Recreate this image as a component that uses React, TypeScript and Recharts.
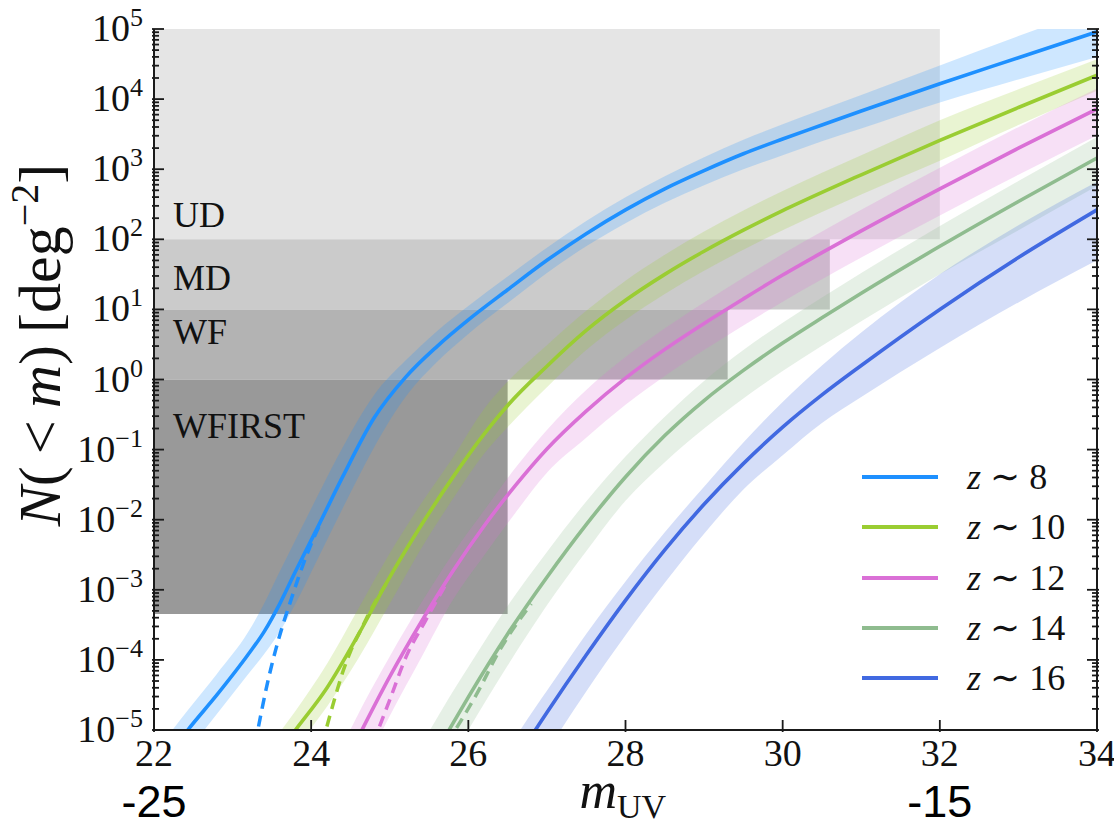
import { ComposedChart, Area, Line, XAxis, YAxis, ReferenceArea, Legend, Label } from "recharts";

const SERIF = "'Liberation Serif', 'DejaVu Serif', serif";
const SANS = "'Liberation Sans', Arial, sans-serif";
const AXIS = "#1a1a1a";

// m_UV grid and log10 N(<m) [deg^-2], per redshift
const z8M = [22.2, 22.43, 22.8, 23.2, 23.4, 23.6, 23.8, 24.1, 24.4, 24.8, 25.2, 25.6, 26.0, 26.5, 27.0, 27.5, 28.0, 28.5, 29.0, 29.5, 30.0, 30.5, 31.0, 32.0, 33.0, 34.0];
const z8Mid = [-5.34, -5.0, -4.5, -3.92, -3.6, -3.2, -2.74, -2.07, -1.39, -0.55, 0.03, 0.47, 0.85, 1.28, 1.7, 2.08, 2.42, 2.72, 2.98, 3.22, 3.43, 3.63, 3.83, 4.22, 4.59, 4.96];
const z8Hi = [-5.05, -4.72, -4.2, -3.6, -3.2, -2.74, -2.29, -1.62, -0.97, -0.22, 0.27, 0.69, 1.05, 1.47, 1.88, 2.26, 2.6, 2.9, 3.17, 3.42, 3.64, 3.85, 4.06, 4.48, 4.9, 5.3];
const z8Lo = [-5.62, -5.3, -4.77, -4.2, -3.92, -3.6, -3.2, -2.52, -1.84, -0.97, -0.25, 0.25, 0.65, 1.09, 1.52, 1.9, 2.23, 2.52, 2.77, 3.0, 3.2, 3.4, 3.58, 3.95, 4.28, 4.6];
const z8DashM = [23.33, 23.45, 23.55, 23.64, 23.73, 23.84, 23.98, 24.12];
const z8Dash = [-4.95, -4.3, -3.85, -3.5, -3.19, -2.82, -2.4, -2.05];

const z10M = [23.5, 23.8, 24.2, 24.6, 25.0, 25.4, 25.8, 26.2, 26.5, 27.0, 27.5, 28.0, 28.5, 29.0, 29.5, 30.0, 30.5, 31.0, 32.0, 33.0, 34.0];
const z10Mid = [-5.45, -5.0, -4.4, -3.64, -2.82, -2.08, -1.4, -0.78, -0.37, 0.19, 0.7, 1.13, 1.5, 1.83, 2.13, 2.41, 2.67, 2.92, 3.41, 3.88, 4.34];
const z10Hi = [-5.18, -4.73, -4.06, -3.27, -2.48, -1.77, -1.12, -0.42, -0.03, 0.49, 0.98, 1.41, 1.78, 2.11, 2.41, 2.69, 2.95, 3.2, 3.7, 4.14, 4.57];
const z10Lo = [-5.75, -5.27, -4.67, -3.98, -3.2, -2.41, -1.71, -1.06, -0.68, -0.11, 0.42, 0.85, 1.22, 1.55, 1.85, 2.13, 2.39, 2.64, 3.12, 3.63, 4.12];
const z10DashM = [24.2, 24.3, 24.4, 24.5, 24.62, 24.8, 25.0];
const z10Dash = [-4.95, -4.55, -4.18, -3.88, -3.6, -3.2, -2.84];

const z12M = [24.4, 24.66, 25.0, 25.4, 25.8, 26.2, 26.6, 27.0, 27.5, 28.0, 28.5, 29.0, 29.5, 30.0, 30.5, 31.0, 32.0, 33.0, 34.0];
const z12Mid = [-5.55, -4.97, -4.24, -3.46, -2.74, -2.09, -1.51, -0.99, -0.45, 0.02, 0.43, 0.8, 1.15, 1.49, 1.81, 2.12, 2.72, 3.3, 3.86];
const z12Hi = [-5.22, -4.64, -3.95, -3.19, -2.49, -1.87, -1.26, -0.72, -0.15, 0.32, 0.73, 1.1, 1.45, 1.79, 2.11, 2.42, 3.02, 3.6, 4.15];
const z12Lo = [-6.1, -5.55, -4.8, -3.97, -3.15, -2.51, -1.9, -1.33, -0.83, -0.36, 0.05, 0.42, 0.77, 1.11, 1.43, 1.74, 2.34, 2.92, 3.48];
const z12DashM = [24.87, 25.0, 25.21, 25.45, 25.7];
const z12Dash = [-4.95, -4.57, -3.95, -3.45, -2.95];

const z14M = [25.4, 25.77, 26.0, 26.5, 27.0, 27.5, 28.0, 28.5, 29.0, 29.5, 30.0, 30.5, 31.0, 32.0, 33.0, 34.0];
const z14Mid = [-5.7, -4.97, -4.53, -3.63, -2.82, -2.07, -1.39, -0.8, -0.3, 0.13, 0.52, 0.88, 1.23, 1.9, 2.54, 3.16];
const z14Hi = [-5.22, -4.51, -4.1, -3.23, -2.46, -1.74, -1.1, -0.53, -0.02, 0.42, 0.81, 1.17, 1.52, 2.19, 2.83, 3.46];
const z14Lo = [-6.2, -5.45, -5.0, -4.08, -3.22, -2.45, -1.73, -1.18, -0.7, -0.27, 0.12, 0.48, 0.83, 1.5, 2.13, 2.76];
const z14DashM = [25.85, 26.1, 26.4, 26.8];
const z14Dash = [-4.97, -4.5, -3.86, -3.2];

const z16M = [26.5, 26.87, 27.0, 27.5, 28.0, 28.5, 29.0, 29.5, 30.0, 30.5, 31.0, 32.0, 33.0, 34.0];
const z16Mid = [-5.6, -4.97, -4.75, -3.93, -3.15, -2.43, -1.78, -1.2, -0.68, -0.22, 0.2, 1.0, 1.74, 2.42];
const z16Hi = [-5.28, -4.65, -4.44, -3.63, -2.88, -2.18, -1.53, -0.9, -0.32, 0.2, 0.67, 1.5, 2.2, 2.82];
const z16Lo = [-6.2, -5.52, -5.3, -4.45, -3.65, -2.9, -2.2, -1.57, -1.08, -0.62, -0.25, 0.45, 1.1, 1.7];

// survey depth boxes
const surveyNames = ["UD", "MD", "WF", "WFIRST"];
const surveyMlim = [32.0, 30.6, 29.3, 26.5];
const surveyNmin = [1e2, 1e1, 1e0, 4.5e-4];
const surveyNmax = [1e5, 1e2, 1e1, 1e0];
const surveyFill = ["#e5e5e5", "#cbcbcb", "#b3b3b3", "#999999"];

const xTicks = [22, 24, 26, 28, 30, 32, 34];
const yExp = [-5, -4, -3, -2, -1, 0, 1, 2, 3, 4, 5];
const absMagTicks = [22, 32];
const absMagLabels = ["-25", "-15"];

const yTicks: number[] = [];
yExp.forEach((e) => {
  yTicks.push(10 ** e);
  if (e < 5) for (let k = 2; k <= 9; k++) yTicks.push(Number((k * 10 ** e).toPrecision(3)));
});
const isMajor = (v: number) => yExp.some((e) => Math.abs(v / 10 ** e - 1) < 1e-6);

const toBand = (m: number[], mid: number[], lo: number[], hi: number[]) =>
  m.map((v, i) => ({ m: v, n: 10 ** mid[i], band: [10 ** lo[i], 10 ** hi[i]] }));
const toLine = (m: number[], l: number[]) => m.map((v, i) => ({ m: v, n: 10 ** l[i] }));

const series = [
  { z: "8", color: "#1e90ff", data: toBand(z8M, z8Mid, z8Lo, z8Hi), dash: toLine(z8DashM, z8Dash) },
  { z: "10", color: "#9acd32", data: toBand(z10M, z10Mid, z10Lo, z10Hi), dash: toLine(z10DashM, z10Dash) },
  { z: "12", color: "#da70d6", data: toBand(z12M, z12Mid, z12Lo, z12Hi), dash: toLine(z12DashM, z12Dash) },
  { z: "14", color: "#8fbc8f", data: toBand(z14M, z14Mid, z14Lo, z14Hi), dash: toLine(z14DashM, z14Dash) },
  { z: "16", color: "#4169e1", data: toBand(z16M, z16Mid, z16Lo, z16Hi), dash: null as any },
];

const expText = (e: number) => (e < 0 ? `\u2212${-e}` : `${e}`);

const LeftTick = ({ x, y, payload }: any) => {
  const v = payload.value;
  const major = isMajor(v);
  return (
    <g>
      <line x1={x} x2={x + (major ? 12 : 7)} y1={y} y2={y} stroke={AXIS} strokeWidth={1.8} />
      {major && (
        <text x={x - 9} y={y + 12} textAnchor="end" fontFamily={SERIF} fontSize={38} fill="#111">
          10<tspan dy={-15} fontSize={26}>{expText(Math.round(Math.log10(v)))}</tspan>
        </text>
      )}
    </g>
  );
};

const RightTick = ({ x, y, payload }: any) => (
  <line x1={x} x2={x - (isMajor(payload.value) ? 12 : 7)} y1={y} y2={y} stroke={AXIS} strokeWidth={1.8} />
);

const BottomTick = ({ x, y, payload }: any) => (
  <g>
    <line x1={x} x2={x} y1={y} y2={y - 12} stroke={AXIS} strokeWidth={1.8} />
    <text x={x} y={y + 34} textAnchor="middle" fontFamily={SERIF} fontSize={38} fill="#111">
      {payload.value}
    </text>
  </g>
);

const TopTick = ({ x, y }: any) => <line x1={x} x2={x} y1={y} y2={y + 12} stroke={AXIS} strokeWidth={1.8} />;

const AbsTick = ({ x, y, payload }: any) => (
  <text x={x} y={y + 45} textAnchor="middle" fontFamily={SANS} fontSize={45} fill="#000">
    {absMagLabels[absMagTicks.indexOf(payload.value)]}
  </text>
);

const XLabel = ({ viewBox }: any) => {
  const cx = viewBox.x + viewBox.width / 2;
  return (
    <text x={cx - 46} y={viewBox.y + 38} fontFamily={SERIF} fontSize={52} fill="#111">
      <tspan fontStyle="italic">m</tspan>
      <tspan dy={10} fontSize={34}>UV</tspan>
    </text>
  );
};

const YLabel = () => {
  const cx = 60;
  const cy = 345;
  return (
    <text x={cx} y={cy} transform={`rotate(-90 ${cx} ${cy})`} textAnchor="middle" fontFamily={SERIF} fontSize={60} fill="#111">
      <tspan fontStyle="italic">N</tspan>({"\u2009"}&lt;{"\u2009"}<tspan fontStyle="italic">m</tspan>){"\u2009"}[deg
      <tspan dy={-22} fontSize={40}>{"\u22122"}</tspan>
      <tspan dy={22}>]</tspan>
    </text>
  );
};

const labelOffsets = [{ bottom: 12 }, { top: 51 }, { top: 35 }, { top: 58 }];

const BoxLabel = ({ viewBox, text, idx }: any) => {
  const off = labelOffsets[idx] as any;
  const y = off.bottom != null ? viewBox.y + viewBox.height - off.bottom : viewBox.y + off.top;
  return (
    <text x={viewBox.x + 19} y={y} fontFamily={SERIF} fontSize={36} fill="#111">
      {text}
    </text>
  );
};

const LegendBox = () => (
  <div style={{ fontFamily: SERIF, fontSize: 36, color: "#111" }}>
    {series.map((s) => (
      <div key={s.z} style={{ display: "flex", alignItems: "center", height: 50.25 }}>
        <div style={{ width: 76, height: 4, background: s.color, marginRight: 29 }} />
        <span style={{ whiteSpace: "nowrap" }}>
          <i>z</i> {"\u223C"} {s.z}
        </span>
      </div>
    ))}
  </div>
);

export default function App() {
  return (
    <div style={{ position: "absolute", left: 0, top: 0, width: 1114, height: 824, background: "#fff" }}>
      <ComposedChart width={1114} height={824} margin={{ top: 29, right: 16, bottom: 0, left: 0 }}>
        {surveyNames.map((name, i) => (
          <ReferenceArea
            key={name}
            xAxisId="main"
            yAxisId="main"
            x1={22}
            x2={surveyMlim[i]}
            y1={surveyNmin[i]}
            y2={surveyNmax[i]}
            fill={surveyFill[i]}
            fillOpacity={1}
            stroke="none"
            ifOverflow="hidden"
            label={<BoxLabel text={name} idx={i} />}
          />
        ))}
        {series.map((s) => (
          <Area
            key={`band${s.z}`}
            xAxisId="main"
            yAxisId="main"
            data={s.data}
            dataKey="band"
            type="monotone"
            stroke="none"
            fill={s.color}
            fillOpacity={0.22}
            dot={false}
            activeDot={false}
            isAnimationActive={false}
            legendType="none"
          />
        ))}
        {series.map((s) => (
          <Line
            key={`line${s.z}`}
            xAxisId="main"
            yAxisId="main"
            data={s.data}
            dataKey="n"
            type="monotone"
            stroke={s.color}
            strokeWidth={3.6}
            dot={false}
            activeDot={false}
            isAnimationActive={false}
          />
        ))}
        {series
          .filter((s) => s.dash)
          .map((s) => (
            <Line
              key={`dash${s.z}`}
              xAxisId="main"
              yAxisId="main"
              data={s.dash}
              dataKey="n"
              type="monotone"
              stroke={s.color}
              strokeWidth={3.5}
              strokeDasharray="11 7"
              dot={false}
              activeDot={false}
              isAnimationActive={false}
            />
          ))}
        <XAxis
          xAxisId="main"
          type="number"
          dataKey="m"
          domain={[22, 34]}
          ticks={xTicks}
          interval={0}
          allowDataOverflow
          height={40}
          tickSize={0}
          tickLine={false}
          axisLine={{ stroke: AXIS, strokeWidth: 2 }}
          tick={<BottomTick />}
        />
        <XAxis
          xAxisId="zabs"
          type="number"
          dataKey="m"
          domain={[22, 34]}
          ticks={absMagTicks}
          interval={0}
          allowDataOverflow
          height={54}
          tickSize={0}
          tickLine={false}
          axisLine={false}
          tick={<AbsTick />}
        >
          <Label content={<XLabel />} />
        </XAxis>
        <XAxis
          xAxisId="top"
          orientation="top"
          type="number"
          dataKey="m"
          domain={[22, 34]}
          ticks={xTicks}
          interval={0}
          allowDataOverflow
          height={0}
          tickSize={0}
          tickLine={false}
          axisLine={{ stroke: AXIS, strokeWidth: 2 }}
          tick={<TopTick />}
        />
        <YAxis
          yAxisId="main"
          scale="log"
          type="number"
          domain={[1e-5, 1e5]}
          ticks={yTicks}
          interval={0}
          allowDataOverflow
          width={154}
          tickSize={0}
          tickLine={false}
          axisLine={{ stroke: AXIS, strokeWidth: 2 }}
          tick={<LeftTick />}
        >
          <Label content={<YLabel />} />
        </YAxis>
        <YAxis
          yAxisId="right"
          orientation="right"
          scale="log"
          type="number"
          domain={[1e-5, 1e5]}
          ticks={yTicks}
          interval={0}
          allowDataOverflow
          width={1}
          tickSize={0}
          tickLine={false}
          axisLine={{ stroke: AXIS, strokeWidth: 2 }}
          tick={<RightTick />}
        />
        <Legend
          layout="vertical"
          align="center"
          verticalAlign="middle"
          wrapperStyle={{ left: 862, top: 452, width: 250 }}
          content={<LegendBox />}
        />
      </ComposedChart>
    </div>
  );
}
